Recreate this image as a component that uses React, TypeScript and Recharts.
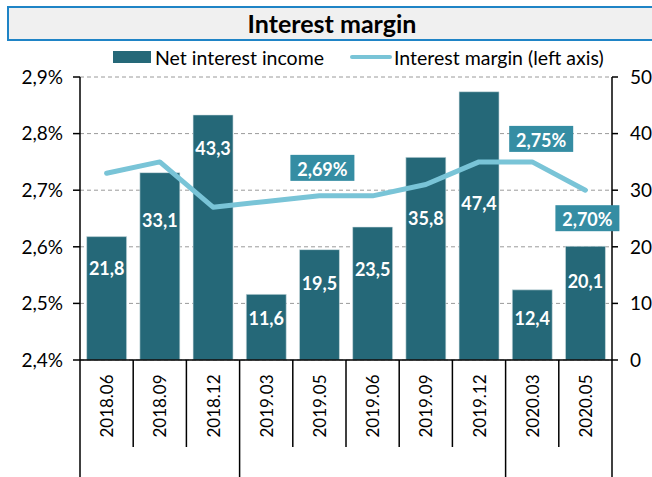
import { ComposedChart, Bar, Line, XAxis, YAxis, CartesianGrid, LabelList } from 'recharts';

const categories = ['2018.06', '2018.09', '2018.12', '2019.03', '2019.05', '2019.06', '2019.09', '2019.12', '2020.03', '2020.05'];
const netInterestIncome = [21.8, 33.1, 43.3, 11.6, 19.5, 23.5, 35.8, 47.4, 12.4, 20.1];
const interestMargin = [2.73, 2.75, 2.67, 2.68, 2.69, 2.69, 2.71, 2.75, 2.75, 2.7];
const leftTicks = [2.4, 2.5, 2.6, 2.7, 2.8, 2.9];
const rightTicks = [0, 10, 20, 30, 40, 50];
// only these points of the margin line carry a label
const labelledMargin = [4, 8, 9];

const W = 652;
const H = 477;
const PLOT_LEFT = 80;
const PLOT_RIGHT = 612;
const PLOT_TOP = 77;
const PLOT_BOTTOM = 360;
const BAND = (PLOT_RIGHT - PLOT_LEFT) / categories.length;

const BAR_COLOR = '#256878';
const LINE_COLOR = '#79c4d7';
const BOX_COLOR = '#358da3';
const FONT = 'Lato, "Liberation Sans", sans-serif';

// hand placed label offsets (pixels below bar top), like the original
const BAR_LABEL_DY = [31, 47, 33, 24, 33, 42, 61, 111, 28, 35];
// offsets of the margin boxes from their points
const MARGIN_LABEL_POS: Record<number, [number, number]> = {
  4: [3, -28],
  8: [9, -23],
  9: [2, 28],
};

const data = categories.map((c, i) => ({
  name: c,
  income: netInterestIncome[i],
  margin: interestMargin[i],
}));

const fmt1 = (v: number) => v.toFixed(1).replace('.', ',');
const fmtPct = (v: number) => v.toFixed(1).replace('.', ',') + '%';

const isGroupStart = (i: number) =>
  i === 0 || categories[i].slice(0, 4) !== categories[i - 1].slice(0, 4);

const CategoryTick = ({ x, payload, index }: any) => {
  const left = x - BAND / 2;
  const right = x + BAND / 2;
  const last = index === categories.length - 1;
  return (
    <g>
      <line x1={left} x2={left} y1={PLOT_BOTTOM} y2={isGroupStart(index) ? H : PLOT_BOTTOM + 87} stroke="#000" strokeWidth={1.5} />
      {last && <line x1={right} x2={right} y1={PLOT_BOTTOM} y2={H} stroke="#000" strokeWidth={1.5} />}
      <text
        transform={`translate(${x},${PLOT_BOTTOM + 46}) rotate(-90)`}
        textAnchor="middle"
        dominantBaseline="central"
        fontSize={17}
        fontFamily={FONT}
        fill="#000"
      >
        {payload.value}
      </text>
    </g>
  );
};

const BarLabel = ({ x, y, width, value, index }: any) => (
  <text
    x={x + width / 2}
    y={y + BAR_LABEL_DY[index]}
    textAnchor="middle"
    dominantBaseline="central"
    fill="#fff"
    fontWeight="bold"
    fontSize={18}
    fontFamily={FONT}
  >
    {fmt1(value)}
  </text>
);

const MarginLabel = ({ x, y, value, index }: any) => {
  if (!labelledMargin.includes(index)) return null;
  const [dx, dy] = MARGIN_LABEL_POS[index];
  const cx = x + dx;
  const cy = y + dy;
  return (
    <g>
      <rect x={cx - 32} y={cy - 13} width={64} height={26} fill={BOX_COLOR} />
      <text
        x={cx}
        y={cy + 1}
        textAnchor="middle"
        dominantBaseline="central"
        fill="#fff"
        fontWeight="bold"
        fontSize={18}
        fontFamily={FONT}
      >
        {value.toFixed(2).replace('.', ',')}%
      </text>
    </g>
  );
};

export default function App() {
  return (
    <div style={{ position: 'absolute', left: 0, top: 0, width: W, height: H, background: '#fff', overflow: 'hidden', fontFamily: FONT }}>
      <div
        style={{
          position: 'absolute',
          left: 7,
          top: 6,
          width: 646,
          height: 31,
          background: '#f0f0f0',
          border: '2px solid #1f84c6',
          textAlign: 'center',
          lineHeight: '31px',
          fontSize: 25,
          fontWeight: 'bold',
          color: '#000',
        }}
      >
        Interest margin
      </div>
      <div style={{ position: 'absolute', left: 113, top: 45, height: 24, display: 'flex', alignItems: 'center', fontSize: 19.5, color: '#000' }}>
        <span style={{ display: 'inline-block', width: 38, height: 12, background: BAR_COLOR, marginRight: 4 }} />
        <span>Net interest income</span>
        <span style={{ display: 'inline-block', width: 42, height: 4, borderRadius: 2, background: LINE_COLOR, marginLeft: 26, marginRight: 2 }} />
        <span>Interest margin (left axis)</span>
      </div>
      <ComposedChart
        width={W}
        height={H}
        data={data}
        margin={{ top: PLOT_TOP, right: 0, bottom: 0, left: 0 }}
        barCategoryGap="12.5%"
      >
        <CartesianGrid yAxisId="left" vertical={false} stroke="#9a9a9a" strokeDasharray="4 3" />
        <XAxis
          dataKey="name"
          interval={0}
          height={H - PLOT_BOTTOM}
          axisLine={{ stroke: '#000', strokeWidth: 1.5 }}
          tickLine={false}
          tick={<CategoryTick />}
        />
        <YAxis
          yAxisId="left"
          orientation="left"
          width={PLOT_LEFT}
          domain={[2.4, 2.9]}
          ticks={leftTicks}
          tickFormatter={fmtPct}
          axisLine={{ stroke: '#000', strokeWidth: 1.5 }}
          tickLine={{ stroke: '#000', strokeWidth: 1.5 }}
          tickSize={7}
          tickMargin={10}
          tick={{ fill: '#000', fontSize: 19, fontFamily: FONT }}
        />
        <YAxis
          yAxisId="right"
          orientation="right"
          width={W - PLOT_RIGHT}
          domain={[0, 50]}
          ticks={rightTicks}
          axisLine={{ stroke: '#000', strokeWidth: 1.5 }}
          tickLine={{ stroke: '#000', strokeWidth: 1.5 }}
          tickSize={6}
          tickMargin={12}
          tick={{ fill: '#000', fontSize: 19, fontFamily: FONT, textAnchor: 'start' }}
        />
        <Bar yAxisId="right" dataKey="income" fill={BAR_COLOR} stroke="#d8e4e7" strokeWidth={0.6} isAnimationActive={false}>
          <LabelList dataKey="income" content={<BarLabel />} />
        </Bar>
        <Line
          yAxisId="left"
          dataKey="margin"
          type="linear"
          stroke={LINE_COLOR}
          strokeWidth={5}
          strokeLinecap="round"
          strokeLinejoin="round"
          dot={false}
          activeDot={false}
          isAnimationActive={false}
        >
          <LabelList dataKey="margin" content={<MarginLabel />} />
        </Line>
      </ComposedChart>
    </div>
  );
}
